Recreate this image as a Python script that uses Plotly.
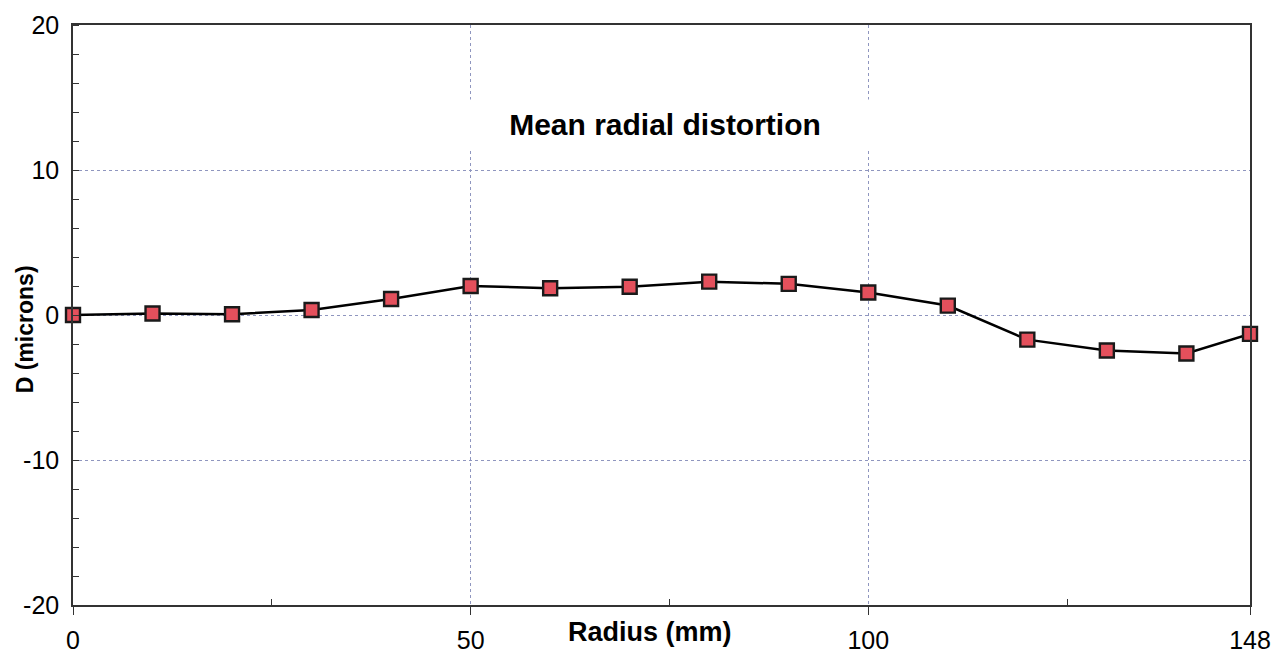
import plotly.graph_objects as go

radius_mm = [0, 10, 20, 30, 40, 50, 60, 70, 80, 90, 100, 110, 120, 130, 140, 148]
distortion_um = [0.0, 0.1, 0.05, 0.35, 1.1, 2.0, 1.85, 1.95, 2.3, 2.15, 1.55, 0.65, -1.7, -2.45, -2.65, -1.3]
x_tickvals = [0, 50, 100, 148]
x_ticktext = ["0", "50", "100", "148"]
x_minor = [25, 75, 125]
y_tickvals = [-20, -10, 0, 10, 20]
y_ticktext = ["-20", "-10", "0", "10", "20"]
title_text = "Mean radial distortion"
x_title = "Radius (mm)"
y_title = "D (microns)"

FONT = "Liberation Sans, Arial, sans-serif"
GRID = "#8f96bf"

fig = go.Figure()
fig.add_trace(go.Scatter(
    x=radius_mm, y=distortion_um, mode="lines+markers",
    line=dict(color="black", width=2.5),
    marker=dict(symbol="square", size=14, color="#e4505c",
                line=dict(color="#1a1a1a", width=2.4)),
    showlegend=False, cliponaxis=False,
))

fig.update_layout(
    width=1288, height=655,
    margin=dict(l=65, r=46, t=17, b=58, autoexpand=False),
    paper_bgcolor="white", plot_bgcolor="white",
    font=dict(family=FONT, color="black", size=25),
    xaxis=dict(
        range=[0, 148], tickvals=x_tickvals, ticktext=x_ticktext,
        showgrid=True, gridcolor=GRID, griddash="dot", gridwidth=1,
        showline=True, linecolor="#333", linewidth=1.5, mirror=True,
        ticks="outside", ticklen=8, tickcolor="#333", tickwidth=1.2,
        ticklabelstandoff=4, zeroline=False, automargin=False,
        tickfont=dict(size=25),
        minor=dict(tickvals=x_minor, ticks="inside", ticklen=6,
                   tickcolor="#333", showgrid=False),
    ),
    yaxis=dict(
        range=[-20, 20], tickvals=y_tickvals, ticktext=y_ticktext,
        showgrid=True, gridcolor=GRID, griddash="dot", gridwidth=1,
        showline=True, linecolor="#333", linewidth=1.5, mirror=True,
        ticks="", zeroline=False, ticklabelstandoff=7, automargin=False,
        tickfont=dict(size=25),
        minor=dict(dtick=2, ticks="inside", ticklen=6,
                   tickcolor="#333", showgrid=False),
    ),
    annotations=[
        dict(text=f"<b>{title_text}</b>", xref="paper", yref="paper",
             x=0.503, y=0.83, xanchor="center", yanchor="middle",
             showarrow=False, font=dict(size=30, family=FONT),
             bgcolor="white", width=420, height=46),
        dict(text=f"<b>{x_title}</b>", xref="paper", yref="paper",
             x=0.49, y=-0.047, xanchor="center", yanchor="middle",
             showarrow=False, font=dict(size=27, family=FONT)),
        dict(text=f"<b>{y_title}</b>", xref="paper", yref="paper",
             x=-0.041, y=0.475, xanchor="center", yanchor="middle",
             textangle=-90, showarrow=False, font=dict(size=23, family=FONT)),
    ],
)

fig.write_html("out.html")
